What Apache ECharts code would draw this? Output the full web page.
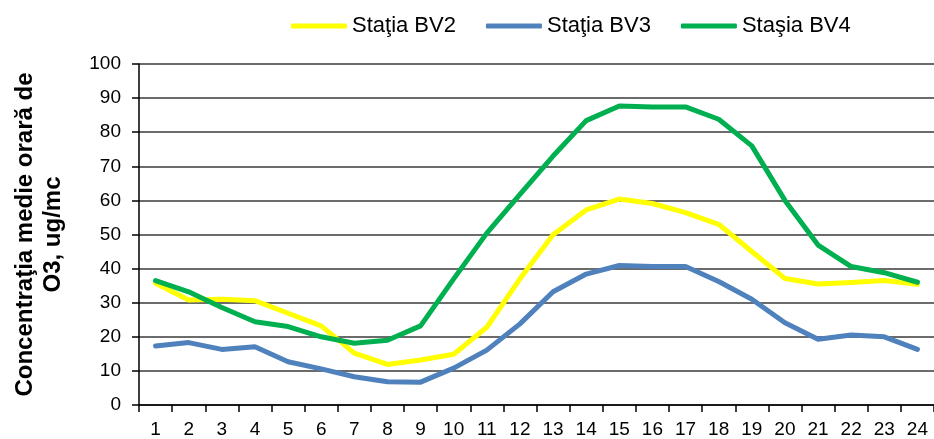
<!DOCTYPE html>
<html><head><meta charset="utf-8">
<script src="https://cdn.jsdelivr.net/npm/echarts@6/dist/echarts.min.js"></script>
<style>html,body{margin:0;padding:0;background:#fff}#c{width:934px;height:439px}</style>
</head><body><div id="c"></div>
<script>
const hours = ['1','2','3','4','5','6','7','8','9','10','11','12','13','14','15','16','17','18','19','20','21','22','23','24'];
const bv2 = [35.7,30.8,31,30.6,26.9,23.2,15.2,11.9,13.2,14.9,22.8,37,49.9,57.2,60.4,59.1,56.4,53,45,37.1,35.5,35.9,36.5,35.4];
const bv3 = [17.3,18.3,16.3,17.1,12.7,10.6,8.3,6.8,6.7,10.8,16.1,23.8,33.2,38.4,40.9,40.6,40.6,36.2,31,24.1,19.3,20.5,20,16.3];
const bv4 = [36.5,33.2,28.6,24.4,23,20,18.1,19,23.2,37,50.4,61.8,73,83.4,87.7,87.4,87.4,83.8,76,60,46.9,40.6,38.8,36];
const names = ['Staţia BV2','Staţia BV3','Staşia BV4'];
const colors = ['#FFFF00','#4F81BD','#00B050'];
const yTitle = 'Concentraţia medie orară de\nO3, ug/mc';

const chart = echarts.init(document.getElementById('c'), null, {renderer:'canvas'});
const mk = (name, data, color) => ({
  name, type:'line', data, showSymbol:false, symbol:'none', smooth:false,
  lineStyle:{color, width:5, cap:'round', join:'round'}, itemStyle:{color},
  animation:false
});
chart.setOption({
  animation:false,
  grid:{left:139, right:0, top:64, bottom:34, containLabel:false},
  legend:{
    left:286, top:10, itemWidth:56, itemHeight:5, itemGap:30, icon:'roundRect',
    textStyle:{fontFamily:'Liberation Sans', fontSize:22, color:'#000'},
    data:names
  },
  xAxis:{
    type:'category', data:hours, boundaryGap:true,
    axisLine:{lineStyle:{color:'#000', width:1.5}},
    axisTick:{show:true, interval:0, length:7, lineStyle:{color:'#000', width:1.5}},
    axisLabel:{interval:0, margin:15, fontFamily:'Liberation Sans', fontSize:19, color:'#000'},
    splitLine:{show:false}
  },
  yAxis:{
    type:'value', min:0, max:100, interval:10,
    name:yTitle, nameLocation:'middle', nameGap:72, nameRotate:90,
    nameTextStyle:{fontFamily:'Liberation Sans', fontWeight:'bold', fontSize:24, color:'#000', lineHeight:28},
    axisLine:{show:true, lineStyle:{color:'#000', width:1.5}},
    axisTick:{show:true, inside:false, length:7, lineStyle:{color:'#000', width:1.5}},
    axisLabel:{margin:18, fontFamily:'Liberation Sans', fontSize:19, color:'#000'},
    splitLine:{show:true, lineStyle:{color:'#3a3a3a', width:1.5}}
  },
  series:[mk(names[0], bv2, colors[0]), mk(names[1], bv3, colors[1]), mk(names[2], bv4, colors[2])]
});
</script></body></html>
